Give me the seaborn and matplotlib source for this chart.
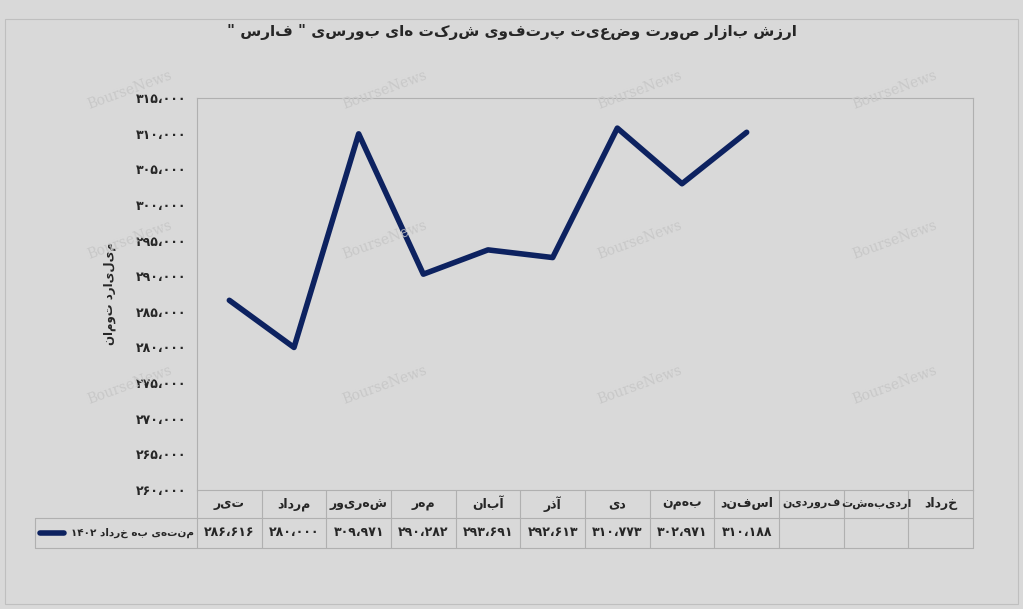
import matplotlib
matplotlib.use("Agg")
import matplotlib.pyplot as plt
import seaborn as sns
import pandas as pd

# chart data
months = ['تیر', 'مرداد', 'شهریور', 'مهر', 'آبان', 'آذر', 'دی', 'بهمن', 'اسفند',
          'فروردین', 'اردیبهشت', 'خرداد']
values = [286616, 280000, 309971, 290282, 293691, 292613, 310773, 302971, 310188,
          None, None, None]
y_ticks = list(range(260000, 315001, 5000))
title = 'ارزش بازار صورت وضعیت پرتفوی شرکت های بورسی " فارس "'
ylabel = 'میلیارد تومان'
legend_txt = 'منتهی به خرداد'
legend_year = '۱۴۰۲'

FA = str.maketrans('0123456789', '۰۱۲۳۴۵۶۷۸۹')


def fa_num(v):
    return f'{v:,}'.replace(',', '،').translate(FA)


def rtl(s):
    # no shaping in matplotlib: reverse so it reads right to left
    return s[::-1]


sns.set_style('white')
plt.rcParams['font.family'] = ['DejaVu Sans']
bg = '#d9d9d9'
navy = '#0d2260'
grid_c = '#b0b0b0'

fig = plt.figure(figsize=(10.23, 6.09), dpi=100, facecolor=bg)
ax = fig.add_axes([197 / 1023, 1 - 490 / 609, 776 / 1023, 392 / 609])
ax.set_facecolor(bg)

df = pd.DataFrame({'x': range(len(months)), 'v': values}).dropna()
sns.lineplot(data=df, x='x', y='v', ax=ax, color=navy, linewidth=4)

ax.set_xlim(-0.5, len(months) - 0.5)
ax.set_ylim(260000, 315000)
ax.set_yticks(y_ticks)
ax.set_yticklabels([fa_num(t) for t in y_ticks], fontsize=9, fontweight='bold')
ax.set_xticks([])
ax.set_xlabel('')
ax.set_ylabel(rtl(ylabel), fontsize=8.5, fontweight='bold', labelpad=14)
ax.tick_params(axis='y', length=0, pad=8)
for s in ax.spines.values():
    s.set_color(grid_c)
    s.set_linewidth(0.8)

# data table under the axes
n = len(months)
h1, h2 = -28 / 392, -58 / 392
lx = (35 - 197) / 776
kw = dict(transform=ax.transAxes, color=grid_c, lw=0.8, clip_on=False)
ax.plot([0, 1], [h1, h1], **kw)
ax.plot([lx, 1], [h2, h2], **kw)
ax.plot([lx, 0], [h1, h1], **kw)
ax.plot([lx, lx], [h1, h2], **kw)
ax.plot([1, 1], [0, h2], **kw)
for i in range(n):
    ax.plot([i / n, i / n], [0, h2], **kw)
for i, (m, v) in enumerate(zip(months, values)):
    xc = (i + 0.5) / n
    ax.text(xc, h1 / 2, rtl(m), transform=ax.transAxes, ha='center', va='center',
            fontsize=8 if len(m) > 6 else 9, fontweight='bold')
    if v is not None:
        ax.text(xc, (h1 + h2) / 2, fa_num(v), transform=ax.transAxes, ha='center',
                va='center', fontsize=9, fontweight='bold')
ax.plot([lx + 0.007, lx + 0.038], [(h1 + h2) / 2] * 2, transform=ax.transAxes,
        color=navy, lw=4, clip_on=False)
ax.text(-0.004, (h1 + h2) / 2, legend_year + ' ' + rtl(legend_txt),
        transform=ax.transAxes, ha='right', va='center', fontsize=7.5, fontweight='bold')

# outer frame and title
fig.patches.append(plt.Rectangle((5 / 1023, 5 / 609), 1013 / 1023, 585 / 609,
                                 transform=fig.transFigure, fill=False,
                                 edgecolor='#bfbfbf', lw=0.8))
fig.text(0.5, 1 - 32 / 609, rtl(title), ha='center', va='center', fontsize=11,
         fontweight='bold')

# watermarks
for wx in [130, 385, 640, 895]:
    for wy in [90, 240, 385]:
        fig.text(wx / 1023, 1 - wy / 609, 'BourseNews', rotation=20, fontsize=10,
                 color='#c8c8c8', family='DejaVu Serif', ha='center', va='center',
                 zorder=0)

fig.savefig('out.png', dpi=100, facecolor=bg)
